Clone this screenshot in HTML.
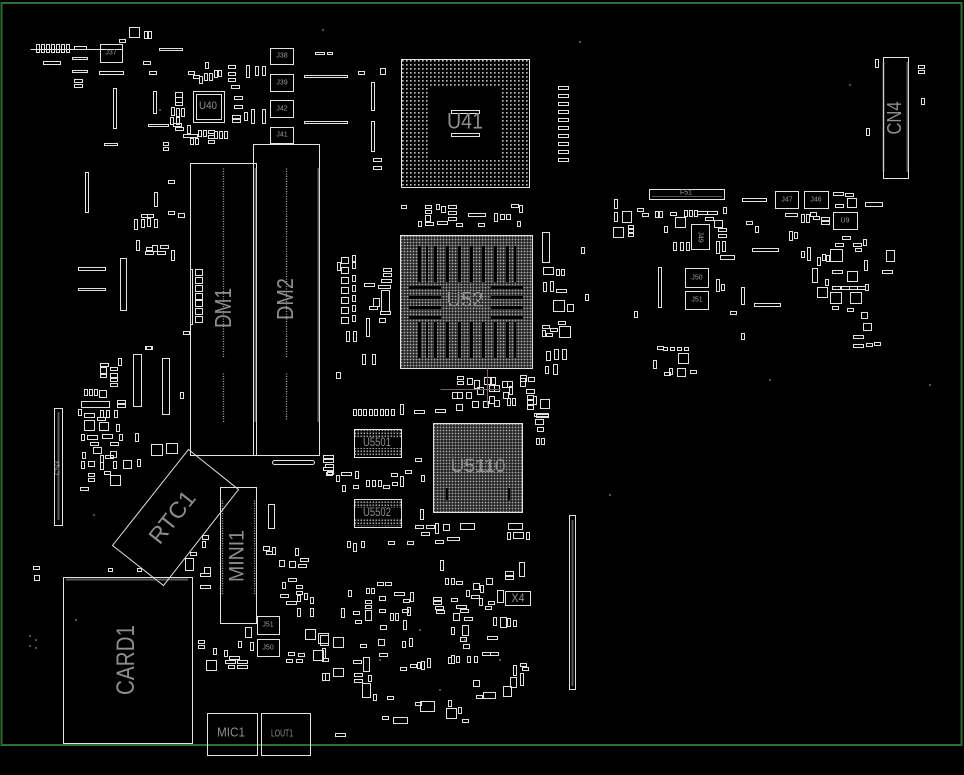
<!DOCTYPE html>
<html><head><meta charset="utf-8"><style>
html,body{margin:0;padding:0;background:#000;}
svg{display:block;}
.c{fill:none;stroke:#e2e2e2;stroke-width:1;}
.t{font-family:"Liberation Sans",sans-serif;fill:#8e8e8e;text-anchor:middle;dominant-baseline:central;}
.s{font-family:"Liberation Sans",sans-serif;fill:#9a9a9a;text-anchor:middle;dominant-baseline:central;font-size:7px;}
.p{fill:none;stroke:#a8a8a8;stroke-width:1.3;stroke-dasharray:1 1.5;}
.q{fill:none;stroke:#b5b5b5;stroke-width:2;stroke-dasharray:1 1;}
</style></head><body>
<svg width="964" height="775" viewBox="0 0 964 775" xmlns="http://www.w3.org/2000/svg">
<defs>
<pattern id="bga" width="4" height="4" patternUnits="userSpaceOnUse" x="401" y="59"><rect x="1" y="1" width="1.6" height="1.6" fill="#c4c4c4"/></pattern>
<pattern id="dn" width="3" height="3" patternUnits="userSpaceOnUse" x="400" y="235"><rect x="0.5" y="0.5" width="2" height="2" fill="#a8a8a8"/></pattern>
<pattern id="dn2" width="3" height="3" patternUnits="userSpaceOnUse" x="433" y="423"><rect x="0.5" y="0.5" width="2" height="2" fill="#a2a2a2"/></pattern>
<pattern id="dn3" width="3" height="3" patternUnits="userSpaceOnUse"><rect x="0.5" y="0.5" width="1.6" height="1.6" fill="#a0a0a0"/></pattern>
</defs>
<rect width="964" height="775" fill="#000"/>
<rect x="1.5" y="3" width="960" height="742" fill="none" stroke="#2d6d2d" stroke-width="2"/>

<!-- U41 BGA -->
<rect x="401" y="59" width="128" height="128" fill="url(#bga)"/>
<rect x="430" y="87" width="70" height="71" fill="#000"/>
<!-- U52 -->
<rect x="400" y="235" width="132" height="133" fill="url(#dn)"/>
<g fill="#000">
<rect x="418" y="246" width="3" height="36"/><rect x="426" y="246" width="2" height="36"/><rect x="434" y="246" width="3" height="36"/><rect x="446" y="246" width="3" height="36"/><rect x="458" y="246" width="3" height="36"/><rect x="470" y="246" width="3" height="36"/><rect x="482" y="246" width="3" height="36"/><rect x="494" y="246" width="3" height="36"/><rect x="506" y="246" width="3" height="36"/><rect x="514" y="246" width="2" height="36"/>
<rect x="418" y="322" width="3" height="36"/><rect x="426" y="322" width="2" height="36"/><rect x="434" y="322" width="3" height="36"/><rect x="446" y="322" width="3" height="36"/><rect x="458" y="322" width="3" height="36"/><rect x="470" y="322" width="3" height="36"/><rect x="482" y="322" width="3" height="36"/><rect x="494" y="322" width="3" height="36"/><rect x="506" y="322" width="3" height="36"/><rect x="514" y="322" width="2" height="36"/>
<rect x="409" y="286" width="32" height="3"/><rect x="409" y="296" width="32" height="3"/><rect x="409" y="306" width="32" height="3"/><rect x="409" y="316" width="32" height="3"/>
<rect x="491" y="286" width="32" height="3"/><rect x="491" y="296" width="32" height="3"/><rect x="491" y="306" width="32" height="3"/><rect x="491" y="316" width="32" height="3"/>
</g>
<!-- U5110 -->
<rect x="433" y="423" width="89" height="89" fill="url(#dn2)"/>
<g fill="#000"><rect x="446" y="488" width="2" height="12"/><rect x="508" y="488" width="2" height="12"/></g>
<!-- U5501/U5502 pad rows -->
<rect x="355" y="430" width="46" height="8" fill="url(#dn3)"/><rect x="355" y="448" width="46" height="8" fill="url(#dn3)"/>
<rect x="355" y="500" width="46" height="8" fill="url(#dn3)"/><rect x="355" y="518" width="46" height="8" fill="url(#dn3)"/>

<g transform="translate(0.5,0.5)">
<g class="c">
<rect x="401" y="59" width="128" height="128"/>
<rect x="400" y="235" width="132" height="133"/>
<rect x="433" y="423" width="89" height="89"/>
<rect x="354" y="429" width="47" height="28"/>
<rect x="354" y="499" width="47" height="28"/>
<rect x="451" y="110" width="28" height="3"/><rect x="451" y="133" width="28" height="3"/>
<rect x="190" y="163" width="66" height="292"/>
<rect x="253" y="144" width="66" height="311"/>
<polygon points="188,449 238,489 163,585 112,545"/>
<rect x="220" y="487" width="36" height="136"/>
<rect x="63" y="577" width="129" height="166"/>
<rect x="207" y="713" width="50" height="42"/>
<rect x="261" y="713" width="49" height="42"/>
<rect x="257" y="616" width="22" height="18"/>
<rect x="257" y="639" width="22" height="17"/>
<rect x="883" y="57" width="25" height="121"/>
<rect x="54" y="408" width="8" height="117"/>
<rect x="569" y="515" width="6" height="174"/>
<rect x="505" y="591" width="25" height="14"/>
<path d="M30 49H122"/>
<rect x="36" y="44" width="3" height="8"/><rect x="41" y="44" width="3" height="8"/><rect x="46" y="44" width="3" height="8"/><rect x="51" y="44" width="3" height="8"/><rect x="56" y="44" width="3" height="8"/><rect x="61" y="44" width="3" height="8"/><rect x="66" y="44" width="3" height="8"/>
<rect x="74" y="46" width="12" height="3"/>
<rect x="100" y="44" width="22" height="18"/>
<rect x="129" y="27" width="10" height="10"/><rect x="144" y="31" width="3" height="7"/><rect x="148" y="31" width="3" height="7"/><rect x="119" y="39" width="6" height="3"/>
<rect x="159" y="48" width="23" height="2"/><rect x="43" y="61" width="17" height="3"/><rect x="72" y="57" width="15" height="2"/><rect x="72" y="70" width="15" height="2"/>
<rect x="74" y="79" width="8" height="3"/><rect x="74" y="84" width="8" height="3"/><rect x="99" y="71" width="24" height="3"/><rect x="143" y="61" width="7" height="3"/><rect x="149" y="71" width="7" height="3"/>
<rect x="113" y="88" width="3" height="40"/><rect x="153" y="91" width="3" height="22"/><rect x="104" y="143" width="13" height="2"/><rect x="148" y="124" width="20" height="2"/>
<rect x="163" y="142" width="5" height="3"/><rect x="163" y="147" width="5" height="3"/><rect x="168" y="180" width="6" height="3"/><rect x="85" y="172" width="3" height="40"/>
<rect x="154" y="192" width="3" height="14"/><rect x="168" y="211" width="6" height="3"/><rect x="178" y="213" width="6" height="4"/>
<rect x="134" y="219" width="3" height="10"/><rect x="141" y="219" width="3" height="8"/><rect x="147" y="218" width="3" height="8"/><rect x="154" y="219" width="3" height="8"/><rect x="141" y="214" width="6" height="3"/><rect x="147" y="214" width="6" height="3"/>
<rect x="136" y="240" width="3" height="10"/><rect x="146" y="247" width="6" height="3"/><rect x="152" y="245" width="5" height="6"/><rect x="160" y="245" width="8" height="3"/><rect x="145" y="251" width="8" height="3"/><rect x="157" y="251" width="8" height="3"/><rect x="171" y="250" width="3" height="10"/>
<rect x="78" y="267" width="27" height="3"/><rect x="78" y="288" width="27" height="2"/><rect x="120" y="258" width="6" height="52"/>
<rect x="146" y="346" width="6" height="3"/><rect x="183" y="331" width="6" height="3"/>
<rect x="193" y="91" width="31" height="31"/><rect x="196" y="94" width="25" height="25"/>
<rect x="205" y="62" width="3" height="6"/><rect x="188" y="71" width="6" height="3"/><rect x="193" y="75" width="6" height="3"/><rect x="199" y="76" width="3" height="7"/><rect x="204" y="73" width="3" height="7"/><rect x="209" y="73" width="3" height="7"/><rect x="214" y="70" width="3" height="7"/><rect x="218" y="70" width="3" height="6"/>
<rect x="228" y="65" width="7" height="3"/><rect x="228" y="72" width="7" height="3"/><rect x="228" y="78" width="7" height="3"/><rect x="231" y="85" width="8" height="3"/><rect x="234" y="96" width="8" height="3"/><rect x="234" y="105" width="8" height="3"/><rect x="232" y="115" width="8" height="3"/><rect x="232" y="119" width="8" height="3"/>
<rect x="244" y="112" width="3" height="8"/><rect x="251" y="109" width="3" height="14"/><rect x="262" y="109" width="3" height="14"/><rect x="246" y="65" width="3" height="12"/><rect x="255" y="66" width="3" height="9"/><rect x="262" y="66" width="3" height="9"/>
<rect x="175" y="92" width="7" height="5"/><rect x="175" y="97" width="7" height="5"/><rect x="175" y="102" width="7" height="3"/><rect x="171" y="107" width="3" height="8"/><rect x="176" y="108" width="3" height="8"/><rect x="181" y="108" width="3" height="8"/><rect x="170" y="117" width="3" height="7"/><rect x="176" y="117" width="3" height="7"/><rect x="173" y="123" width="8" height="3"/><rect x="175" y="127" width="8" height="3"/>
<rect x="187" y="125" width="3" height="8"/><rect x="198" y="130" width="3" height="6"/><rect x="203" y="130" width="3" height="6"/><rect x="208" y="130" width="6" height="3"/><rect x="208" y="135" width="6" height="3"/><rect x="208" y="140" width="6" height="3"/><rect x="214" y="131" width="3" height="7"/><rect x="219" y="131" width="3" height="7"/><rect x="224" y="131" width="3" height="7"/><rect x="190" y="138" width="3" height="6"/><rect x="195" y="138" width="3" height="6"/><rect x="183" y="134" width="14" height="3"/>
<rect x="270" y="48" width="23" height="16"/><rect x="270" y="74" width="23" height="17"/><rect x="270" y="100" width="23" height="17"/><rect x="270" y="127" width="23" height="16"/>
<rect x="315" y="52" width="9" height="2"/><rect x="327" y="52" width="5" height="2"/><rect x="304" y="75" width="43" height="2"/><rect x="304" y="121" width="43" height="2"/><rect x="358" y="71" width="6" height="3"/><rect x="380" y="68" width="5" height="6"/>
<rect x="371" y="82" width="3" height="28"/><rect x="371" y="121" width="3" height="30"/><rect x="373" y="158" width="8" height="3"/><rect x="373" y="166" width="8" height="3"/>
<rect x="558" y="86" width="10" height="3"/><rect x="558" y="94" width="10" height="3"/><rect x="558" y="102" width="10" height="3"/><rect x="558" y="110" width="10" height="3"/><rect x="558" y="118" width="10" height="3"/><rect x="558" y="126" width="10" height="3"/><rect x="558" y="134" width="10" height="3"/><rect x="558" y="142" width="10" height="3"/><rect x="558" y="150" width="10" height="3"/><rect x="558" y="158" width="10" height="3"/>
<rect x="425" y="205" width="6" height="3"/><rect x="425" y="210" width="6" height="3"/><rect x="425" y="215" width="5" height="6"/><rect x="436" y="204" width="3" height="5"/><rect x="441" y="206" width="4" height="6"/><rect x="448" y="205" width="8" height="3"/><rect x="448" y="211" width="8" height="3"/><rect x="448" y="217" width="8" height="3"/><rect x="468" y="213" width="17" height="3"/><rect x="494" y="213" width="3" height="8"/><rect x="500" y="214" width="4" height="5"/><rect x="506" y="214" width="4" height="5"/><rect x="511" y="204" width="7" height="3"/><rect x="519" y="205" width="3" height="7"/><rect x="517" y="221" width="3" height="5"/><rect x="418" y="221" width="3" height="5"/><rect x="425" y="222" width="8" height="3"/><rect x="437" y="221" width="10" height="3"/><rect x="456" y="223" width="6" height="3"/><rect x="478" y="223" width="6" height="3"/><rect x="401" y="205" width="5" height="3"/>
<rect x="341" y="257" width="7" height="6"/><rect x="341" y="267" width="7" height="6"/><rect x="341" y="277" width="7" height="6"/><rect x="341" y="287" width="7" height="6"/><rect x="341" y="297" width="7" height="6"/><rect x="341" y="307" width="7" height="6"/><rect x="341" y="317" width="7" height="6"/>
<rect x="352" y="255" width="3" height="6"/><rect x="352" y="262" width="3" height="6"/><rect x="352" y="275" width="3" height="6"/><rect x="352" y="285" width="3" height="6"/><rect x="352" y="295" width="3" height="6"/><rect x="352" y="305" width="3" height="6"/><rect x="352" y="315" width="3" height="6"/>
<rect x="383" y="268" width="8" height="3"/><rect x="383" y="273" width="8" height="3"/><rect x="381" y="279" width="10" height="3"/><rect x="378" y="285" width="12" height="3"/><rect x="364" y="283" width="10" height="3"/><rect x="381" y="290" width="8" height="21"/><rect x="373" y="298" width="6" height="8"/><rect x="369" y="306" width="8" height="3"/><rect x="380" y="311" width="10" height="3"/><rect x="379" y="318" width="6" height="4"/><rect x="366" y="318" width="3" height="18"/><rect x="346" y="331" width="3" height="10"/><rect x="353" y="331" width="3" height="10"/><rect x="362" y="354" width="3" height="10"/><rect x="372" y="354" width="3" height="10"/><rect x="336" y="372" width="4" height="6"/><rect x="337" y="262" width="3" height="8"/>
<rect x="542" y="232" width="7" height="30"/><rect x="543" y="267" width="10" height="7"/><rect x="556" y="269" width="3" height="6"/><rect x="561" y="269" width="3" height="6"/><rect x="543" y="282" width="3" height="9"/><rect x="550" y="281" width="3" height="10"/><rect x="556" y="289" width="10" height="3"/><rect x="553" y="300" width="11" height="11"/><rect x="567" y="304" width="6" height="7"/><rect x="558" y="321" width="7" height="3"/><rect x="542" y="325" width="7" height="3"/><rect x="542" y="330" width="3" height="6"/><rect x="546" y="333" width="6" height="3"/><rect x="550" y="328" width="7" height="3"/><rect x="559" y="326" width="11" height="11"/><rect x="546" y="351" width="4" height="9"/><rect x="554" y="349" width="4" height="10"/><rect x="562" y="349" width="4" height="10"/><rect x="553" y="364" width="4" height="10"/><rect x="581" y="247" width="3" height="6"/><rect x="585" y="294" width="3" height="6"/><rect x="520" y="378" width="5" height="8"/>
<rect x="457" y="376" width="6" height="3"/><rect x="457" y="381" width="6" height="3"/><rect x="467" y="378" width="5" height="6"/><rect x="474" y="380" width="5" height="8"/><rect x="484" y="377" width="6" height="7"/><rect x="491" y="377" width="4" height="7"/><rect x="452" y="392" width="5" height="6"/><rect x="457" y="392" width="5" height="6"/><rect x="466" y="392" width="5" height="6"/><rect x="477" y="387" width="6" height="7"/><rect x="489" y="385" width="5" height="6"/><rect x="494" y="385" width="5" height="6"/><rect x="502" y="381" width="5" height="6"/><rect x="507" y="381" width="5" height="6"/><rect x="503" y="392" width="5" height="6"/><rect x="509" y="386" width="3" height="8"/><rect x="520" y="375" width="6" height="6"/><rect x="528" y="377" width="6" height="4"/><rect x="526" y="389" width="8" height="4"/><rect x="527" y="395" width="6" height="4"/><rect x="527" y="400" width="6" height="4"/><rect x="527" y="405" width="6" height="4"/><rect x="533" y="396" width="3" height="8"/><rect x="540" y="399" width="9" height="9"/><rect x="536" y="414" width="12" height="3"/><rect x="535" y="419" width="8" height="5"/><rect x="537" y="427" width="6" height="4"/><rect x="536" y="438" width="3" height="6"/><rect x="541" y="438" width="3" height="6"/><rect x="472" y="401" width="6" height="6"/><rect x="483" y="401" width="5" height="6"/><rect x="489" y="396" width="5" height="7"/><rect x="494" y="400" width="5" height="6"/><rect x="507" y="398" width="3" height="7"/><rect x="512" y="398" width="3" height="7"/><rect x="456" y="404" width="6" height="6"/><rect x="435" y="409" width="10" height="3"/><rect x="545" y="366" width="3" height="7"/>
<rect x="353" y="409" width="3" height="6"/><rect x="358" y="409" width="3" height="6"/><rect x="363" y="409" width="3" height="6"/><rect x="369" y="409" width="3" height="6"/><rect x="374" y="409" width="3" height="6"/><rect x="380" y="409" width="3" height="6"/><rect x="385" y="409" width="3" height="6"/><rect x="391" y="409" width="3" height="6"/><rect x="400" y="404" width="3" height="10"/><rect x="414" y="410" width="10" height="3"/>
<rect x="323" y="459" width="10" height="3"/><rect x="323" y="467" width="10" height="3"/><rect x="326" y="472" width="6" height="3"/><rect x="336" y="475" width="3" height="6"/><rect x="341" y="472" width="10" height="3"/><rect x="355" y="471" width="3" height="7"/><rect x="342" y="485" width="3" height="6"/><rect x="353" y="485" width="5" height="3"/><rect x="366" y="480" width="3" height="6"/><rect x="372" y="480" width="3" height="6"/><rect x="378" y="480" width="3" height="6"/><rect x="383" y="485" width="6" height="3"/><rect x="392" y="482" width="5" height="3"/><rect x="400" y="476" width="3" height="10"/><rect x="391" y="473" width="6" height="3"/><rect x="405" y="470" width="6" height="3"/><rect x="415" y="458" width="6" height="3"/><rect x="421" y="475" width="3" height="6"/>
<rect x="420" y="509" width="3" height="10"/><rect x="415" y="525" width="8" height="3"/><rect x="426" y="525" width="8" height="3"/><rect x="421" y="532" width="8" height="3"/><rect x="435" y="523" width="3" height="10"/><rect x="435" y="540" width="8" height="3"/><rect x="443" y="524" width="6" height="6"/><rect x="447" y="537" width="12" height="3"/><rect x="460" y="523" width="14" height="6"/><rect x="508" y="523" width="14" height="6"/><rect x="507" y="532" width="3" height="7"/><rect x="513" y="532" width="10" height="6"/><rect x="526" y="532" width="3" height="7"/>
<rect x="347" y="541" width="3" height="6"/><rect x="353" y="543" width="3" height="8"/><rect x="361" y="541" width="3" height="6"/><rect x="388" y="541" width="6" height="3"/><rect x="407" y="541" width="6" height="3"/><rect x="440" y="560" width="3" height="10"/><rect x="445" y="578" width="3" height="6"/><rect x="451" y="578" width="3" height="6"/><rect x="456" y="581" width="6" height="3"/>
<rect x="534" y="413" width="14" height="3"/>
<rect x="366" y="588" width="3" height="5"/><rect x="371" y="588" width="3" height="5"/><rect x="377" y="582" width="6" height="3"/><rect x="385" y="582" width="6" height="3"/><rect x="379" y="596" width="6" height="4"/><rect x="394" y="592" width="10" height="3"/><rect x="403" y="599" width="6" height="3"/><rect x="410" y="592" width="3" height="9"/><rect x="365" y="600" width="6" height="3"/><rect x="365" y="605" width="6" height="3"/><rect x="365" y="610" width="6" height="10"/><rect x="341" y="608" width="3" height="9"/><rect x="353" y="611" width="6" height="3"/><rect x="379" y="609" width="6" height="3"/><rect x="390" y="613" width="3" height="7"/><rect x="395" y="613" width="3" height="7"/><rect x="402" y="609" width="6" height="3"/><rect x="407" y="607" width="3" height="8"/><rect x="403" y="620" width="3" height="9"/><rect x="380" y="625" width="6" height="4"/><rect x="378" y="639" width="6" height="6"/><rect x="360" y="644" width="6" height="3"/><rect x="333" y="637" width="10" height="10"/><rect x="379" y="653" width="8" height="3"/><rect x="402" y="641" width="3" height="6"/><rect x="409" y="638" width="3" height="8"/><rect x="400" y="667" width="6" height="3"/><rect x="410" y="664" width="6" height="3"/><rect x="417" y="662" width="3" height="6"/><rect x="421" y="661" width="3" height="8"/><rect x="427" y="658" width="3" height="9"/><rect x="353" y="660" width="8" height="3"/><rect x="363" y="657" width="6" height="14"/><rect x="354" y="673" width="8" height="3"/><rect x="354" y="679" width="8" height="3"/><rect x="368" y="675" width="3" height="6"/><rect x="333" y="668" width="10" height="8"/><rect x="325" y="673" width="4" height="7"/><rect x="362" y="683" width="8" height="14"/><rect x="373" y="694" width="3" height="6"/><rect x="387" y="696" width="6" height="3"/><rect x="415" y="702" width="6" height="3"/><rect x="420" y="701" width="14" height="10"/><rect x="446" y="708" width="10" height="10"/><rect x="448" y="700" width="3" height="6"/><rect x="458" y="707" width="3" height="6"/><rect x="462" y="719" width="6" height="3"/><rect x="393" y="717" width="14" height="6"/><rect x="382" y="716" width="6" height="3"/>
<rect x="433" y="597" width="8" height="3"/><rect x="433" y="601" width="8" height="3"/><rect x="435" y="606" width="8" height="3"/><rect x="436" y="610" width="8" height="3"/><rect x="451" y="598" width="6" height="3"/><rect x="456" y="605" width="10" height="3"/><rect x="460" y="609" width="8" height="3"/><rect x="464" y="617" width="8" height="3"/><rect x="453" y="613" width="6" height="7"/><rect x="451" y="627" width="3" height="7"/><rect x="462" y="625" width="6" height="10"/><rect x="460" y="637" width="6" height="4"/><rect x="463" y="644" width="6" height="4"/><rect x="466" y="590" width="3" height="6"/><rect x="473" y="583" width="6" height="6"/><rect x="480" y="585" width="3" height="7"/><rect x="486" y="578" width="6" height="6"/><rect x="471" y="595" width="8" height="3"/><rect x="479" y="598" width="3" height="7"/><rect x="485" y="606" width="6" height="3"/><rect x="488" y="601" width="6" height="3"/><rect x="493" y="617" width="3" height="8"/><rect x="500" y="617" width="6" height="10"/><rect x="507" y="618" width="3" height="8"/><rect x="513" y="620" width="3" height="6"/><rect x="487" y="636" width="10" height="3"/><rect x="482" y="652" width="8" height="3"/><rect x="490" y="652" width="8" height="3"/><rect x="474" y="656" width="3" height="6"/><rect x="467" y="656" width="3" height="6"/><rect x="448" y="657" width="3" height="6"/><rect x="451" y="655" width="3" height="8"/><rect x="456" y="656" width="3" height="6"/><rect x="473" y="680" width="6" height="6"/><rect x="476" y="695" width="6" height="3"/><rect x="483" y="692" width="12" height="6"/><rect x="503" y="686" width="8" height="10"/><rect x="510" y="677" width="6" height="10"/><rect x="513" y="665" width="3" height="10"/><rect x="520" y="663" width="6" height="3"/><rect x="522" y="667" width="6" height="3"/><rect x="520" y="673" width="3" height="12"/><rect x="497" y="590" width="6" height="12"/><rect x="505" y="571" width="8" height="4"/><rect x="505" y="576" width="8" height="3"/><rect x="519" y="562" width="5" height="14"/><rect x="335" y="733" width="10" height="3"/><rect x="320" y="635" width="8" height="10"/><rect x="322" y="648" width="3" height="10"/><rect x="322" y="673" width="3" height="7"/><rect x="348" y="590" width="3" height="6"/><rect x="355" y="620" width="6" height="3"/>
<rect x="272" y="460" width="42" height="4" rx="2"/><rect x="323" y="455" width="10" height="3"/><rect x="325" y="464" width="8" height="3"/><rect x="327" y="471" width="6" height="3"/>
<rect x="268" y="504" width="6" height="24"/><rect x="263" y="546" width="6" height="4"/><rect x="266" y="551" width="6" height="3"/><rect x="272" y="547" width="3" height="7"/><rect x="295" y="548" width="3" height="7"/><rect x="279" y="560" width="5" height="6"/><rect x="289" y="561" width="6" height="6"/><rect x="300" y="558" width="8" height="3"/><rect x="298" y="564" width="8" height="3"/><rect x="282" y="582" width="3" height="6"/><rect x="288" y="578" width="8" height="3"/><rect x="296" y="585" width="6" height="3"/><rect x="296" y="591" width="6" height="3"/><rect x="297" y="595" width="3" height="6"/><rect x="304" y="593" width="3" height="6"/><rect x="310" y="597" width="3" height="6"/><rect x="297" y="608" width="3" height="8"/><rect x="310" y="608" width="3" height="8"/><rect x="286" y="601" width="10" height="3"/><rect x="280" y="594" width="8" height="3"/><rect x="305" y="629" width="10" height="10"/><rect x="318" y="633" width="10" height="10"/><rect x="313" y="650" width="10" height="10"/><rect x="322" y="658" width="6" height="3"/><rect x="206" y="660" width="10" height="10"/><rect x="198" y="640" width="6" height="3"/><rect x="198" y="645" width="6" height="3"/><rect x="213" y="648" width="3" height="6"/><rect x="224" y="650" width="3" height="6"/><rect x="229" y="656" width="10" height="3"/><rect x="225" y="660" width="10" height="3"/><rect x="228" y="665" width="6" height="3"/><rect x="237" y="660" width="10" height="3"/><rect x="237" y="665" width="10" height="3"/><rect x="245" y="627" width="6" height="10"/><rect x="238" y="641" width="3" height="6"/><rect x="250" y="642" width="3" height="8"/><rect x="288" y="652" width="6" height="3"/><rect x="298" y="653" width="6" height="3"/><rect x="286" y="659" width="6" height="3"/><rect x="296" y="659" width="6" height="3"/>
<rect x="200" y="573" width="10" height="3"/><rect x="200" y="585" width="10" height="3"/><rect x="204" y="567" width="6" height="6"/><rect x="202" y="535" width="6" height="4"/><rect x="202" y="541" width="3" height="6"/><rect x="185" y="558" width="8" height="12"/><rect x="190" y="552" width="6" height="3"/><rect x="137" y="568" width="4" height="3"/><rect x="108" y="568" width="4" height="3"/><rect x="33" y="566" width="6" height="3"/><rect x="34" y="575" width="5" height="5"/>
<rect x="133" y="354" width="8" height="52"/><rect x="162" y="358" width="7" height="56"/><rect x="145" y="346" width="6" height="3"/>
<rect x="100" y="363" width="8" height="3"/><rect x="100" y="367" width="6" height="6"/><rect x="100" y="374" width="6" height="3"/><rect x="110" y="367" width="7" height="3"/><rect x="110" y="373" width="7" height="4"/><rect x="110" y="378" width="7" height="3"/><rect x="110" y="383" width="7" height="3"/><rect x="118" y="358" width="3" height="7"/>
<rect x="84" y="389" width="3" height="6"/><rect x="89" y="389" width="3" height="6"/><rect x="94" y="389" width="3" height="6"/><rect x="99" y="390" width="7" height="7"/><rect x="81" y="401" width="28" height="6"/><rect x="117" y="400" width="8" height="3"/><rect x="117" y="404" width="8" height="3"/><rect x="78" y="409" width="3" height="6"/><rect x="84" y="413" width="10" height="4"/><rect x="100" y="410" width="3" height="7"/><rect x="106" y="410" width="3" height="7"/><rect x="114" y="410" width="3" height="7"/><rect x="97" y="417" width="8" height="3"/><rect x="84" y="420" width="10" height="10"/><rect x="99" y="422" width="9" height="8"/><rect x="116" y="424" width="3" height="7"/><rect x="81" y="434" width="3" height="6"/><rect x="87" y="435" width="10" height="4"/><rect x="102" y="434" width="10" height="4"/><rect x="119" y="434" width="3" height="6"/><rect x="135" y="433" width="3" height="8"/><rect x="90" y="442" width="8" height="3"/><rect x="110" y="442" width="8" height="3"/><rect x="93" y="447" width="8" height="6"/><rect x="110" y="451" width="6" height="6"/><rect x="82" y="452" width="3" height="6"/><rect x="100" y="455" width="3" height="7"/><rect x="105" y="455" width="8" height="3"/><rect x="81" y="461" width="3" height="7"/><rect x="88" y="461" width="6" height="5"/><rect x="100" y="462" width="3" height="7"/><rect x="113" y="461" width="3" height="7"/><rect x="123" y="460" width="8" height="8"/><rect x="137" y="459" width="3" height="7"/><rect x="88" y="473" width="6" height="3"/><rect x="88" y="478" width="6" height="3"/><rect x="104" y="471" width="6" height="3"/><rect x="110" y="475" width="10" height="10"/><rect x="80" y="487" width="8" height="3"/><rect x="151" y="444" width="11" height="11"/><rect x="166" y="443" width="11" height="10"/><rect x="180" y="392" width="3" height="6"/>
<rect x="195" y="269" width="7" height="6"/><rect x="195" y="277" width="7" height="6"/><rect x="195" y="285" width="7" height="6"/><rect x="195" y="293" width="7" height="6"/><rect x="195" y="300" width="7" height="6"/><rect x="195" y="308" width="7" height="6"/><rect x="195" y="316" width="7" height="6"/><rect x="190" y="269" width="2" height="55"/>
<rect x="649" y="189" width="75" height="10"/>
<rect x="614" y="199" width="3" height="9"/><rect x="614" y="212" width="3" height="9"/><rect x="622" y="211" width="9" height="11"/><rect x="637" y="208" width="6" height="3"/><rect x="642" y="213" width="6" height="3"/><rect x="613" y="227" width="10" height="10"/><rect x="628" y="225" width="5" height="3"/><rect x="628" y="229" width="5" height="3"/><rect x="628" y="233" width="5" height="3"/><rect x="655" y="211" width="3" height="6"/><rect x="659" y="211" width="3" height="6"/><rect x="670" y="212" width="6" height="3"/><rect x="664" y="226" width="3" height="6"/><rect x="675" y="217" width="10" height="10"/><rect x="684" y="210" width="3" height="6"/><rect x="689" y="210" width="3" height="6"/><rect x="694" y="210" width="3" height="6"/><rect x="697" y="211" width="10" height="3"/><rect x="707" y="211" width="10" height="3"/><rect x="705" y="217" width="8" height="3"/><rect x="723" y="207" width="3" height="6"/><rect x="691" y="224" width="18" height="25"/><rect x="714" y="220" width="8" height="7"/><rect x="718" y="228" width="8" height="3"/><rect x="718" y="234" width="8" height="3"/><rect x="716" y="241" width="3" height="12"/><rect x="722" y="241" width="3" height="10"/><rect x="720" y="255" width="14" height="4"/><rect x="673" y="242" width="3" height="8"/><rect x="680" y="242" width="3" height="8"/><rect x="686" y="242" width="3" height="8"/><rect x="658" y="267" width="3" height="40"/><rect x="634" y="311" width="3" height="6"/><rect x="685" y="268" width="23" height="19"/><rect x="685" y="291" width="23" height="18"/><rect x="716" y="279" width="3" height="12"/><rect x="721" y="284" width="3" height="6"/><rect x="741" y="287" width="3" height="17"/><rect x="754" y="303" width="26" height="3"/><rect x="752" y="248" width="26" height="3"/><rect x="730" y="311" width="6" height="3"/><rect x="741" y="333" width="3" height="6"/><rect x="746" y="221" width="6" height="3"/><rect x="755" y="226" width="3" height="6"/><rect x="742" y="198" width="24" height="3"/>
<rect x="775" y="191" width="23" height="17"/><rect x="804" y="191" width="24" height="17"/><rect x="833" y="212" width="24" height="17"/>
<rect x="833" y="192" width="10" height="3"/><rect x="845" y="193" width="8" height="3"/><rect x="835" y="204" width="8" height="3"/><rect x="847" y="198" width="9" height="9"/><rect x="865" y="202" width="17" height="4"/><rect x="785" y="213" width="12" height="3"/><rect x="801" y="214" width="3" height="8"/><rect x="806" y="214" width="3" height="8"/><rect x="810" y="212" width="6" height="4"/><rect x="813" y="216" width="6" height="3"/><rect x="821" y="217" width="8" height="3"/><rect x="821" y="221" width="8" height="3"/><rect x="789" y="231" width="3" height="9"/><rect x="794" y="232" width="3" height="6"/><rect x="842" y="236" width="8" height="3"/><rect x="835" y="243" width="8" height="3"/><rect x="853" y="243" width="8" height="3"/><rect x="863" y="239" width="3" height="6"/><rect x="855" y="248" width="6" height="3"/><rect x="801" y="251" width="3" height="6"/><rect x="807" y="247" width="3" height="13"/><rect x="817" y="257" width="3" height="8"/><rect x="822" y="254" width="3" height="6"/><rect x="826" y="255" width="3" height="6"/><rect x="830" y="249" width="12" height="12"/><rect x="812" y="268" width="5" height="14"/><rect x="825" y="279" width="3" height="6"/><rect x="832" y="270" width="10" height="3"/><rect x="847" y="271" width="10" height="10"/><rect x="864" y="260" width="3" height="10"/><rect x="817" y="287" width="10" height="10"/><rect x="832" y="286" width="8" height="3"/><rect x="841" y="286" width="8" height="3"/><rect x="849" y="286" width="8" height="3"/><rect x="857" y="286" width="8" height="3"/><rect x="865" y="284" width="3" height="6"/><rect x="830" y="292" width="11" height="11"/><rect x="850" y="292" width="11" height="11"/><rect x="832" y="306" width="6" height="3"/><rect x="847" y="308" width="6" height="3"/><rect x="861" y="312" width="6" height="6"/><rect x="863" y="323" width="8" height="7"/><rect x="853" y="335" width="10" height="3"/><rect x="853" y="344" width="10" height="3"/><rect x="866" y="343" width="6" height="3"/><rect x="874" y="342" width="6" height="3"/><rect x="886" y="250" width="8" height="11"/><rect x="882" y="270" width="10" height="3"/>
<rect x="657" y="346" width="6" height="3"/><rect x="663" y="347" width="4" height="3"/><rect x="670" y="347" width="4" height="3"/><rect x="677" y="347" width="4" height="3"/><rect x="684" y="347" width="4" height="3"/><rect x="678" y="353" width="10" height="10"/><rect x="653" y="360" width="3" height="8"/><rect x="669" y="368" width="3" height="6"/><rect x="664" y="372" width="6" height="3"/><rect x="677" y="368" width="8" height="8"/><rect x="690" y="370" width="6" height="3"/>
<rect x="866" y="128" width="3" height="7"/><rect x="875" y="59" width="3" height="8"/><rect x="918" y="65" width="6" height="3"/><rect x="918" y="70" width="6" height="3"/><rect x="921" y="98" width="3" height="6"/>
</g>
<path class="p" d="M223 168V358M223 373V422M286 168V358M286 373V420M222 500V595M254 500V595"/>
<path class="q" d="M255 168V422M318 168V422M66 579H188M883 62V172M907 62V172M58 412V520M572 520V685"/>
<path d="M652 196H722" stroke="#aaa" stroke-width="1" stroke-dasharray="1 1"/>
<path d="M487 368V405M440 389H500" stroke="#6f5f6f" stroke-width="1"/>
</g>

<g fill="#3f7f6f">
<circle cx="30" cy="636" r="1"/><circle cx="36" cy="640" r="1"/><circle cx="30" cy="646" r="1"/><circle cx="36" cy="648" r="1"/><circle cx="76" cy="620" r="1"/><circle cx="94" cy="515" r="1"/><circle cx="323" cy="30" r="1"/><circle cx="580" cy="42" r="1"/><circle cx="850" cy="85" r="1"/><circle cx="930" cy="385" r="1"/><circle cx="610" cy="495" r="1"/><circle cx="160" cy="110" r="1"/><circle cx="770" cy="380" r="1"/><circle cx="465" cy="640" r="1"/><circle cx="420" cy="630" r="1"/><circle cx="500" cy="660" r="1"/><circle cx="380" cy="660" r="1"/><circle cx="440" cy="690" r="1"/>
</g>

<text class="t" x="465" y="121" font-size="22" textLength="36" lengthAdjust="spacingAndGlyphs">U41</text>
<text class="t" x="465" y="300" font-size="21" textLength="37" lengthAdjust="spacingAndGlyphs">U52</text>
<text class="t" x="478" y="466" font-size="18" textLength="55" lengthAdjust="spacingAndGlyphs">U5110</text>
<text class="t" x="377" y="442" font-size="12" textLength="28" lengthAdjust="spacingAndGlyphs">U5501</text>
<text class="t" x="377" y="512" font-size="12" textLength="28" lengthAdjust="spacingAndGlyphs">U5502</text>
<text class="t" x="223" y="308" font-size="23" textLength="40" lengthAdjust="spacingAndGlyphs" transform="rotate(-90 223 308)">DM1</text>
<text class="t" x="285" y="299" font-size="23" textLength="42" lengthAdjust="spacingAndGlyphs" transform="rotate(-90 285 299)">DM2</text>
<text class="t" x="172" y="517" font-size="23" textLength="60" lengthAdjust="spacingAndGlyphs" transform="rotate(-51.6 172 517)">RTC1</text>
<text class="t" x="237" y="556" font-size="21" textLength="52" lengthAdjust="spacingAndGlyphs" transform="rotate(-90 237 556)">MINI1</text>
<text class="t" x="126" y="660" font-size="25" textLength="70" lengthAdjust="spacingAndGlyphs" transform="rotate(-90 126 660)">CARD1</text>
<text class="t" x="895" y="118" font-size="20" textLength="33" lengthAdjust="spacingAndGlyphs" transform="rotate(-90 895 118)">CN4</text>
<text class="t" x="231" y="732" font-size="13" textLength="28" lengthAdjust="spacingAndGlyphs">MIC1</text>
<text class="t" x="282" y="734" font-size="10" textLength="22" lengthAdjust="spacingAndGlyphs">LOUT1</text>
<text class="t" x="518" y="598" font-size="12" textLength="13" lengthAdjust="spacingAndGlyphs">X4</text>
<text class="t" x="208" y="106" font-size="11" textLength="18" lengthAdjust="spacingAndGlyphs">U40</text>
<text class="s" x="111" y="53">J37</text>
<text class="s" x="282" y="56">J38</text>
<text class="s" x="282" y="83">J39</text>
<text class="s" x="282" y="109">J42</text>
<text class="s" x="282" y="135">J41</text>
<text class="s" x="787" y="200">J47</text>
<text class="s" x="816" y="200">J46</text>
<text class="s" x="845" y="221">U9</text>
<text class="s" x="700" y="237" transform="rotate(90 700 237)">J49</text>
<text class="s" x="697" y="278">J50</text>
<text class="s" x="697" y="300">J51</text>
<text class="s" x="268" y="625">J51</text>
<text class="s" x="268" y="648">J50</text>
<text class="s" x="686" y="193" font-size="6">F51</text>
<text class="s" x="58" y="468" font-size="6" transform="rotate(-90 58 468)">CN3</text>
</svg>
</body></html>
